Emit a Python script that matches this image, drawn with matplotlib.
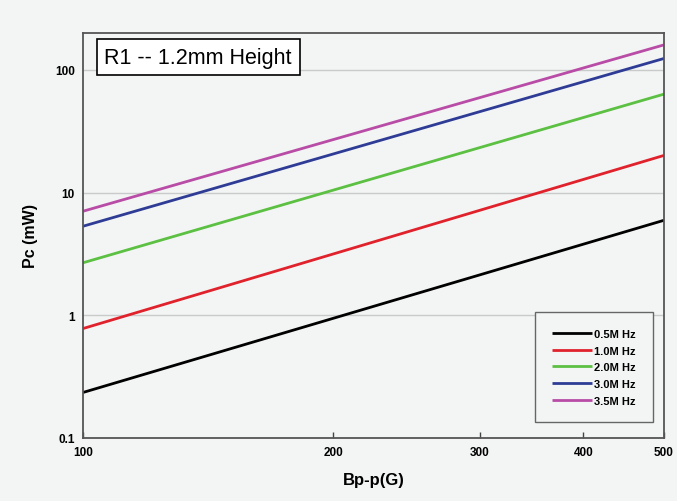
import matplotlib
matplotlib.use("Agg")
from matplotlib import pyplot as plt
from matplotlib.ticker import FixedLocator, NullLocator, NullFormatter
import numpy as np

# Pc at the two ends of the Bp-p range
bpp = [100, 500]
freqLabels = ["0.5M Hz", "1.0M Hz", "2.0M Hz", "3.0M Hz", "3.5M Hz"]
pcAt100 = [0.235, 0.78, 2.68, 5.32, 7.05]
pcAt500 = [5.95, 20.1, 63.5, 124, 160]
lineColors = ["#000000", "#e0222c", "#5cc043", "#2f3c96", "#b84ca6"]

xTicks = [100, 200, 300, 400, 500]
yTicks = [0.1, 1, 10, 100]
yTickLabels = ["0.1", "1", "10", "100"]

bg = "#f3f5f4"
plt.rcParams['font.family'] = ['Liberation Sans', 'DejaVu Sans']

fig = plt.figure(figsize=(6.77, 5.02), dpi=100, facecolor=bg)
ax = fig.add_axes([0.1226, 0.1255, 0.8582, 0.8068])
ax.set_facecolor(bg)

for label, a, b, c in zip(freqLabels, pcAt100, pcAt500, lineColors):
    ax.plot(bpp, [a, b], color=c, linewidth=2.0, label=label, solid_capstyle='butt')

ax.set_xscale('log')
ax.set_yscale('log')
ax.set_xlim(100, 500)
ax.set_ylim(0.1, 200)

ax.xaxis.set_major_locator(FixedLocator(xTicks))
ax.xaxis.set_minor_locator(NullLocator())
ax.xaxis.set_minor_formatter(NullFormatter())
ax.set_xticks(xTicks)
ax.set_xticklabels([str(t) for t in xTicks], fontweight='bold', fontsize=8.5)
ax.yaxis.set_minor_locator(NullLocator())
ax.set_yticks(yTicks)
ax.set_yticklabels(yTickLabels, fontweight='bold', fontsize=8.5)
ax.tick_params(axis='x', direction='in', length=4, width=1, color='#444444', pad=6)
ax.tick_params(axis='y', length=0, pad=6)

ax.grid(True, axis='y', color='#c9cbca', linewidth=1)
ax.set_axisbelow(True)
for s in ax.spines.values():
    s.set_color('#555555')
    s.set_linewidth(1.3)

ax.set_xlabel("Bp-p(G)", fontweight='bold', fontsize=12, labelpad=10)
ax.set_ylabel("Pc (mW)", fontweight='bold', fontsize=11.5, labelpad=12)

ax.text(0.037, 0.94, "R1 -- 1.2mm Height", transform=ax.transAxes,
        fontsize=15.5, va='center', ha='left',
        bbox=dict(boxstyle='square,pad=0.35', facecolor='white', edgecolor='black', linewidth=1.2))

leg = ax.legend(loc='lower right', bbox_to_anchor=(0.99, 0.025),
                prop={'weight': 'bold', 'size': 8}, handlelength=3.6, handletextpad=0.2,
                labelspacing=0.6, borderpad=1.5, fancybox=False, framealpha=1)
leg.get_frame().set_edgecolor('#666666')
leg.get_frame().set_facecolor(bg)
leg.get_frame().set_linewidth(1.0)

fig.savefig("out.png", dpi=100, facecolor=bg)
